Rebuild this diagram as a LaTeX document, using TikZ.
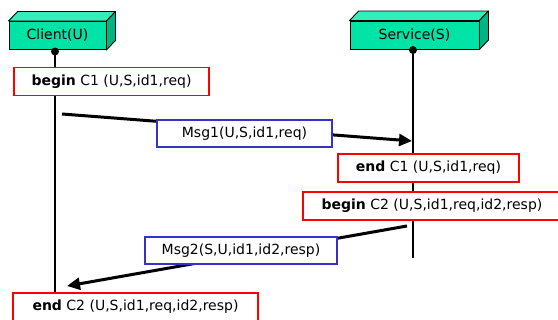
\documentclass[tikz,border=0pt]{standalone}
\usepackage{fontspec}
\setmainfont{DejaVu Sans}
\usetikzlibrary{arrows.meta}

\definecolor{facefront}{HTML}{00E3A6}
\definecolor{facetop}{HTML}{33EDBB}
\definecolor{faceside}{HTML}{00B584}
\definecolor{eventred}{HTML}{FF0000}
\definecolor{msgblue}{HTML}{3333CC}

\tikzset{
  actor/.style={draw=black, line width=0.9pt, fill=facefront, inner sep=0pt,
                minimum height=28pt, font=\fontsize{14}{16}\selectfont},
  topface/.style={draw=black, line width=0.9pt, fill=facetop, line join=round},
  sideface/.style={draw=black, line width=0.9pt, fill=faceside, line join=round},
  lifeline/.style={line width=2.2pt},
  lifedot/.style={fill=black},
  eventbox/.style={draw=eventred, line width=1.7pt, fill=white, inner sep=0pt,
                   minimum height=28pt, font=\fontsize{14}{16}\selectfont},
  msgbox/.style={draw=msgblue, line width=1.5pt, fill=white, inner sep=0pt,
                 minimum height=27pt, font=\fontsize{14}{16}\selectfont},
  msgarrow/.style={line width=3pt, -{Triangle[length=13pt,width=12pt]}}
}

\begin{document}
\begin{tikzpicture}[x=1pt, y=-1pt]
\useasboundingbox (0,0) rectangle (558,320);
\clip (0,0) rectangle (558,320);

% participants drawn as 3D blocks
\node[actor, minimum width=97pt] (client) at (57.5,35.5) {Client(U)};
\node[actor, minimum width=129pt] (service) at (414.5,35) {Service(S)};
\foreach \a in {client, service} {
  \draw[topface] (\a.north west) -- ++(9,-9.5) -- ([shift={(9,-9.5)}]\a.north east)
    -- (\a.north east) -- cycle;
  \draw[sideface] (\a.north east) -- ++(9,-9.5) -- ([shift={(9,-9.5)}]\a.south east)
    -- (\a.south east) -- cycle;
}

% lifelines
\coordinate (ctop) at (55,49);
\coordinate (cbot) at (55,293);
\coordinate (stop) at (413,49);
\coordinate (sbot) at (413,258);
\draw[lifeline] (ctop) -- (cbot);
\draw[lifeline] (stop) -- (sbot);
\fill[lifedot] (55,51.5) circle (4pt);
\fill[lifedot] (413,50) circle (4pt);

% messages
\coordinate (m1from) at (62,114);
\coordinate (m1to) at (412,141);
\coordinate (m2from) at (407,226);
\coordinate (m2to) at (67,286);
\draw[msgarrow] (m1from) -- (m1to);
\draw[msgarrow] (m2from) -- (m2to);
\node[msgbox, minimum width=175pt] (msg1) at (244.5,133.5) {Msg1(U,S,id1,req)};
\node[msgbox, minimum width=192pt] (msg2) at (241,250.5) {Msg2(S,U,id1,id2,resp)};

% protocol events
\node[eventbox, minimum width=195pt] (bc1) at (111.5,81.5) {\textbf{begin} C1 (U,S,id1,req)};
\node[eventbox, minimum width=181pt] (ec1) at (428.5,168) {\textbf{end} C1 (U,S,id1,req)};
\node[eventbox, minimum width=258pt] (bc2) at (432,206) {\textbf{begin} C2 (U,S,id1,req,id2,resp)};
\node[eventbox, minimum width=245pt] (ec2) at (135.5,307) {\textbf{end} C2 (U,S,id1,req,id2,resp)};
\end{tikzpicture}
\end{document}
